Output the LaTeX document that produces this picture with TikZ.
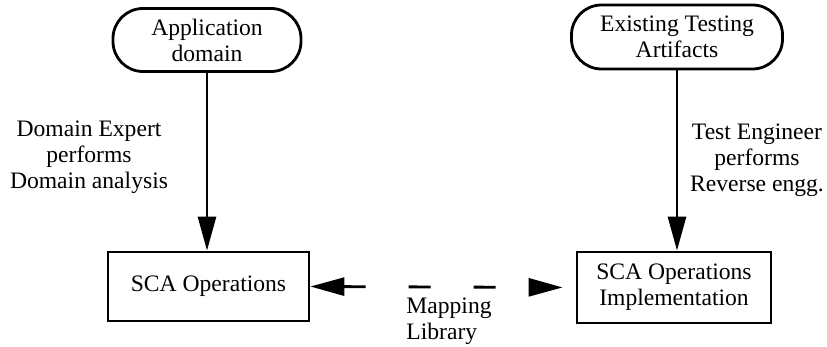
\documentclass[tikz,border=0pt]{standalone}
\usepackage{fontspec}
\setmainfont{Liberation Serif}
\usetikzlibrary{arrows.meta}

\begin{document}
\begin{tikzpicture}[
    x=0.5pt, y=-0.5pt,      % 座標は画像のピクセルに合わせる
    line width=1.4pt,
    >={Triangle[length=17pt, width=9pt]},
    font=\fontsize{11.8}{13}\selectfont,
    source/.style={draw, rectangle, rounded corners=15pt, align=center, inner sep=0pt},
    block/.style={draw, rectangle, align=center, inner sep=0pt},
    note/.style={align=center, inner sep=0pt}
]
    \useasboundingbox (0,0) rectangle (827,347);

    % --- 上段 (入力) ---
    \node [source, minimum width=94pt, minimum height=31.5pt] (appdomain) at (207,40) {Application\\domain};
    \node [source, minimum width=105.5pt, minimum height=32pt] (artifacts) at (677,37) {Existing Testing\\Artifacts};

    % --- 下段 (SCA) ---
    \node [block, minimum width=100.5pt, minimum height=34.5pt] (scaops) at (208.5,286.5) {SCA Operations};
    \node [block, minimum width=97pt, minimum height=35.5pt] (scaimpl) at (674,287.5) {SCA Operations\\Implementation};

    % --- 縦の矢印とラベル ---
    \draw [->] (appdomain.south) -- (appdomain.south |- scaops.north);
    \node [note] (expert) at (89,157) {Domain Expert\\performs\\Domain analysis};

    \draw [->] (artifacts.south) -- (artifacts.south |- scaimpl.north);
    \node [note] (engineer) at (757,160) {Test Engineer\\performs\\Reverse engg.};

    % --- 横の破線 (Mapping Library) ---
    \draw [<->, dash pattern=on 11pt off 21.5pt, shorten >=6.5pt] (scaops.east) -- (scaimpl.west);
    \node [note, align=left, anchor=north west] (mapping) at (405,296) {Mapping\\Library};

\end{tikzpicture}
\end{document}
